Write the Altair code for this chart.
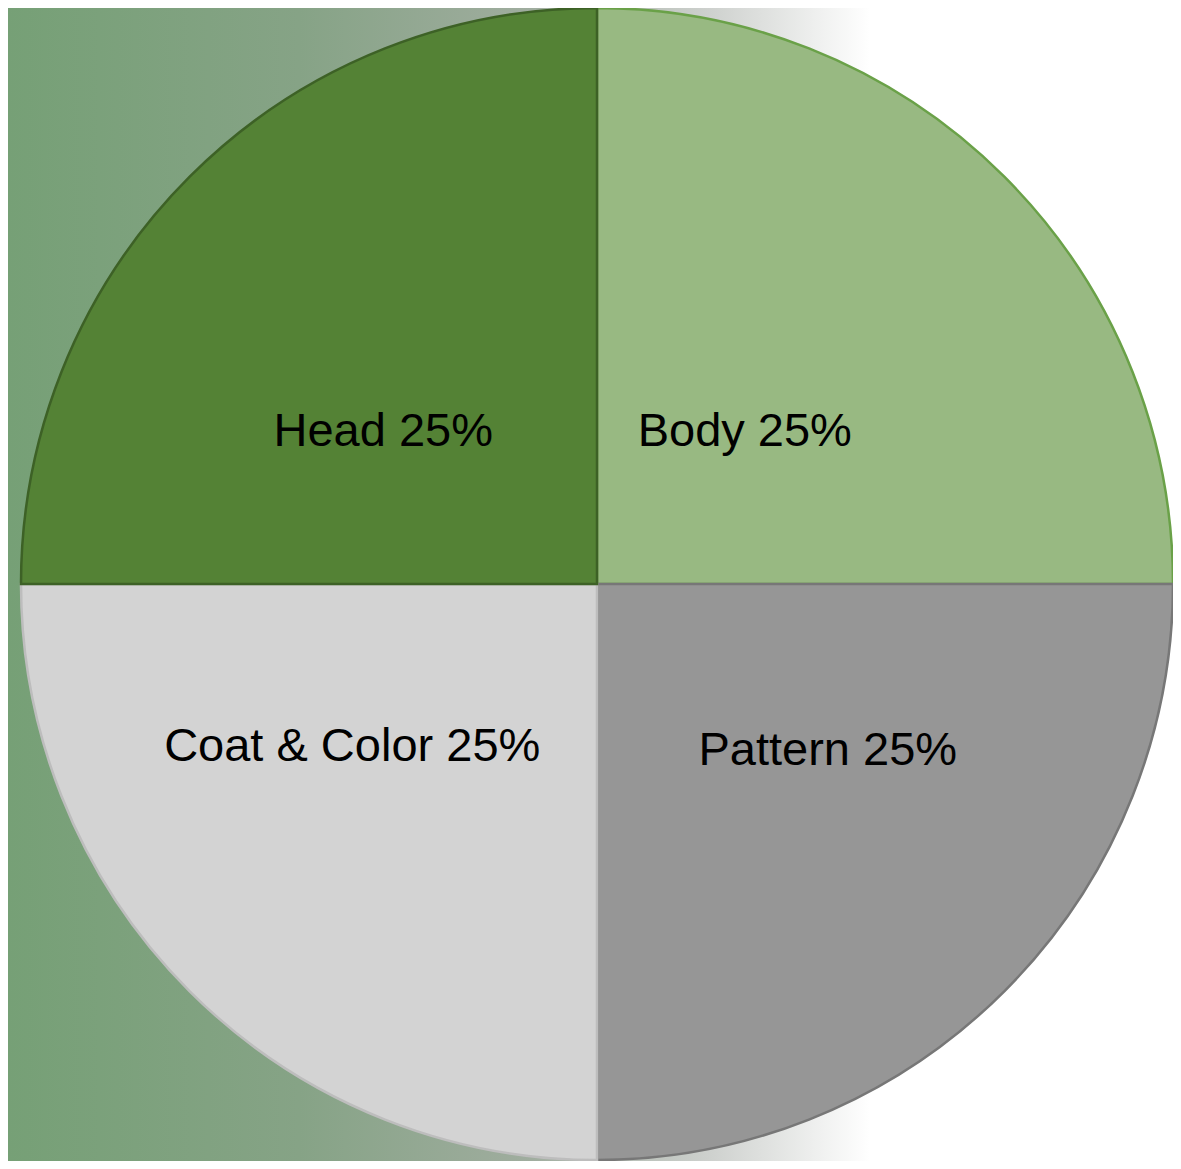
import altair as alt
import pandas as pd

categories = ["Body", "Pattern", "Coat & Color", "Head"]
values = [25, 25, 25, 25]
labels = ["Body 25%", "Pattern 25%", "Coat & Color 25%", "Head 25%"]
fill_colors = ["#98b982", "#969696", "#d3d3d3", "#548235"]
stroke_colors = ["#6aa148", "#777777", "#bdbdbd", "#3d6126"]

W, H = 1165, 1153

df = pd.DataFrame({
    "category": categories,
    "value": values,
    "label": labels,
    "order": list(range(len(categories))),
})

bg = alt.Chart(pd.DataFrame({"bg": [0]})).mark_rect(
    color=alt.Gradient(
        gradient="linear",
        stops=[
            alt.GradientStop(color="#76a076", offset=0),
            alt.GradientStop(color="#86a386", offset=0.25),
            alt.GradientStop(color="#a0ad9f", offset=0.45),
            alt.GradientStop(color="#cdd0cd", offset=0.6),
            alt.GradientStop(color="#ffffff", offset=0.74),
            alt.GradientStop(color="#ffffff", offset=1),
        ],
        x1=0, x2=1, y1=0, y2=0,
    )
).encode(
    x=alt.value(0), x2=alt.value(W), y=alt.value(0), y2=alt.value(H)
)

cx, cy = 589, 576

pie = alt.Chart(df).mark_arc(radius=576, strokeWidth=2.5).encode(
    theta=alt.Theta("value:Q", stack=True, scale=alt.Scale(domain=[0, 100])),
    order=alt.Order("order:Q"),
    x=alt.value(cx),
    y=alt.value(cy),
    color=alt.Color("category:N", scale=alt.Scale(domain=categories, range=fill_colors), legend=None),
    stroke=alt.Stroke("category:N", scale=alt.Scale(domain=categories, range=stroke_colors), legend=None),
)

offsets = {
    "Body": (-29, 25),
    "Pattern": (54, -10),
    "Coat & Color": (-68, -14),
    "Head": (-37, 25),
}

text_layers = []
for cat in categories:
    ddx, ddy = offsets[cat]
    t = alt.Chart(df).transform_window(
        cum="sum(value)", sort=[alt.SortField("order")]
    ).transform_calculate(
        mid="datum.cum - datum.value / 2"
    ).transform_filter(
        alt.datum.category == cat
    ).mark_text(
        radius=250, fontSize=47, font="Liberation Sans", color="#000000",
        align="center", baseline="middle", dx=ddx, dy=ddy,
    ).encode(
        theta=alt.Theta("mid:Q", scale=alt.Scale(domain=[0, 100])),
        x=alt.value(cx), y=alt.value(cy), text="label:N",
    )
    text_layers.append(t)

chart = alt.layer(bg, pie, *text_layers).properties(
    width=W, height=H, autosize=alt.AutoSizeParams(type="none"), padding=0
).configure_view(stroke=None)

chart.save("out.html", embed_options={"renderer": "svg", "actions": False})
